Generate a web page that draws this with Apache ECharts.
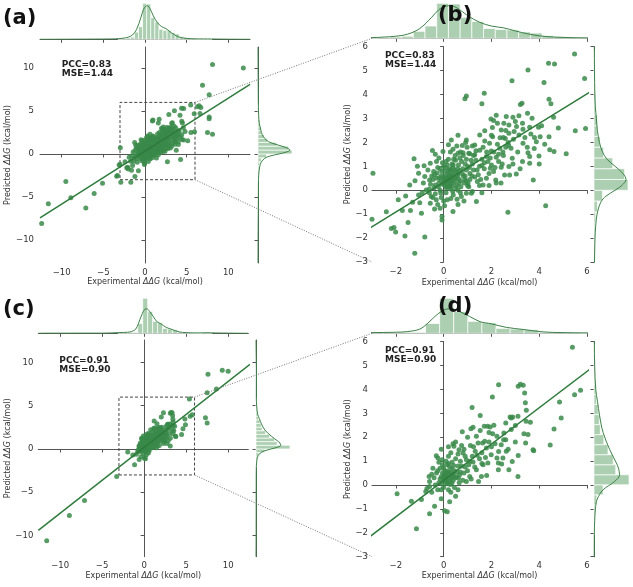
<!DOCTYPE html>
<html><head><meta charset="utf-8">
<script src="https://cdn.jsdelivr.net/npm/echarts@6/dist/echarts.min.js"></script>
<style>html,body{margin:0;padding:0;background:#fff}#c{width:633px;height:587px}</style>
</head><body><div id="c"></div>
<script>
// ---------------- data ----------------
const panelLabels = ['(a)', '(b)', '(c)', '(d)'];
const statTexts = ['PCC=0.83\nMSE=1.44', 'PCC=0.83\nMSE=1.44', 'PCC=0.91\nMSE=0.90', 'PCC=0.91\nMSE=0.90'];
const xAxisTitle = 'Experimental {i|ΔΔG} (kcal/mol)';
const yAxisTitle = 'Predicted {i|ΔΔG} (kcal/mol)';
const fullTicks = [-10, -5, 0, 5, 10];
const zoomXTicks = [-2, 0, 2, 4, 6];
const zoomYTicks = [-3, -2, -1, 0, 1, 2, 3, 4, 5, 6];
const zoomBox = [-3, 6];

// model 1 (panels a, b): [experimental, predicted]
const model1Points = [
[11.8,10.0],[8.1,10.4],[6.9,8.0],[7.7,6.9],[6.5,5.6],[6.7,5.4],[6.6,4.7],[7.7,4.3],[7.7,4.1],[7.5,2.5],[8.1,2.3],[6.3,5.5],
[-12.4,-8.1],[-11.6,-5.8],[-9.5,-3.2],[-8.9,-5.1],[-7.1,-6.3],[-6.1,-4.6],[-5.1,-3.4],[-3.4,-2.6],[-3.1,-1.3],[-2.9,-3.3],[-1.7,-3.3],[-3.3,-2.5],
[5.48,5.70],[5.90,4.67],[4.39,5.31],[4.64,5.28],[3.53,5.03],[2.86,4.58],[4.20,4.50],[1.70,4.05],[0.95,3.94],[0.89,3.82],[1.60,3.61],[4.41,3.80],[4.49,3.61],[3.28,3.64],[3.21,3.58],[3.51,3.22],[2.20,3.13],[2.62,3.08],[2.90,3.05],[3.15,3.11],[1.98,2.98],[2.09,2.91],[2.25,2.80],[2.52,2.80],[2.73,2.73],[3.00,2.87],[3.70,3.01],[3.97,2.63],[3.05,2.66],[2.04,2.62],[2.41,2.52],[3.32,2.55],[3.60,2.63],[5.94,2.58],[5.51,2.49],[1.72,2.49],[1.51,2.31],[2.73,2.38],[3.15,2.31],[4.04,2.24],[4.41,2.24],[2.05,2.24],[2.36,2.19],[2.58,2.16],[2.92,2.13],[0.95,2.10],[0.32,2.10],[1.72,2.06],[1.92,1.96],[2.25,1.92],[1.30,1.89],[2.72,1.87],[3.32,1.96],[3.88,2.03],[0.98,1.80],[0.78,1.87],[1.65,1.80],[2.82,1.75],[3.79,1.74],[4.23,1.92],[4.44,1.69],[4.62,1.62],[1.51,1.67],[1.99,1.64],[2.48,1.60],[3.53,1.57],[5.13,1.52],[-0.47,1.66],[-0.03,1.62],[0.39,1.71],[0.60,1.55],[0.81,1.57],[1.09,1.52],[1.30,1.48],[1.79,1.41],[2.20,1.38],[2.87,1.34],[3.60,1.41],[3.99,1.43],[3.60,1.13],[2.73,0.99],[2.41,0.96],[1.95,0.92],[1.60,1.03],[3.04,0.68],[2.55,0.64],[2.09,0.78],[2.76,0.64],[1.79,0.50],[2.18,0.43],[1.41,0.36],[1.02,0.29],[1.65,0.22],[3.75,0.43],[1.37,-0.47],[0.95,-0.13],[2.69,-0.92],[4.27,-0.65],[-2.96,0.71],[-3.0,-1.21],[-1.24,1.32],
[-2.19,-1.60],[-2.08,-1.56],[-2.01,-1.75],[-1.62,-1.91],[-0.79,-1.96],[-1.21,-2.63],[-1.49,-1.35],[-1.73,-0.85],[-1.39,-0.85],[-1.00,-0.52],[-0.56,-0.54],[-0.93,-0.96],[-0.38,-0.78],[-0.07,-1.24],[-0.07,-1.10],[0.39,-0.89],[0.04,-0.65],[-1.59,-0.24],[-1.42,0.22],[-1.05,-0.20],[-0.73,0.01],[-0.52,-0.26],[-0.35,0.22],[-0.59,0.43],[-0.79,0.57],[-1.05,0.71],[-0.82,1.02],[-0.56,1.13],[-0.66,0.85],[-0.42,0.78],[0.56,-0.38],[0.74,-0.26],[1.16,-0.13],[-0.31,-0.40],
[0.0,0.3],[0.1,0.5],[0.2,0.4],[0.3,0.6],[0.4,0.3],[0.5,0.5],[0.6,0.7],[0.15,0.15],[0.25,0.9],[0.35,1.1],[-0.1,0.6],[-0.2,0.3],[0.05,0.8],[0.45,0.85],[0.55,0.2],[0.7,0.4],[0.8,0.9],[0.9,0.6],[1.0,1.0],[1.1,0.7],[-0.3,0.5],[-0.15,0.0],[0.1,-0.1],[0.3,0.05],[0.6,0.0],[0.2,1.3],[0.5,1.25],[0.75,1.2],[-0.05,1.15],[-0.25,0.95],[0.0,0.55],[0.12,0.35],[0.22,0.62],[0.32,0.45],[0.42,0.65],[0.05,0.2],[0.28,0.25],[0.38,0.95],[0.62,0.48],[0.68,0.82],[0.85,0.3],[0.95,1.3],[1.2,1.1],[1.25,0.85],[1.35,1.25],[1.45,0.65],[1.5,1.0],[1.1,0.45],[-0.4,0.1],[-0.45,0.45],[-0.55,0.25],[-0.35,-0.15],[-0.2,1.35],[0.15,1.05],[0.48,1.45],[0.7,1.6],[0.9,1.1],[1.05,1.55],[1.15,1.25],[1.3,0.55],[1.6,1.3],[1.7,0.9],[1.85,1.2],[2.0,1.05],[2.3,1.2],[2.5,1.45],[2.1,1.6],[1.9,0.7],[0.02,0.42],[0.18,0.72],[0.26,0.52],[0.33,0.18],[0.46,0.38],[0.58,0.62],[0.08,0.95],[-0.08,0.78],[-0.12,0.42],[0.72,0.15],[0.82,0.6],[1.0,0.2],[1.2,-0.05],[0.4,-0.2],[0.15,-0.4],[-0.1,-0.3],[-0.25,-0.6],[0.6,-0.6],[0.85,-0.45],[0.28,1.6],[-0.35,1.5],[0.55,1.85],
[2.6,2.5],[3.4,2.2],[3.1,1.6],[2.35,1.75],[2.95,2.45],[3.65,2.35],[4.0,1.1],[3.3,1.2],[2.2,0.3],[2.9,1.1],[4.6,3.05],[4.8,2.6],
[-0.05,0.25],[0.08,0.62],[0.18,0.48],[0.27,0.38],[0.36,0.72],[0.44,0.52],[0.52,0.78],[0.64,0.3],[0.12,0.08],[0.22,0.82],[-0.18,0.52],[-0.28,0.72],[0.0,1.0],[0.4,1.05],[0.62,1.05],[0.78,0.7],[0.88,0.45],[0.95,0.85],[1.08,0.95],[1.18,0.6],[0.3,0.85],[0.16,0.28],[0.06,0.46],[0.24,0.15],[0.5,0.1],[0.7,-0.1],[-0.22,0.15],[-0.12,-0.12],[0.38,-0.05],[0.58,0.9],[0.68,1.35],[0.82,1.45],[0.42,1.3],[0.1,1.2],[-0.15,0.9],[-0.38,0.65],[-0.5,0.6],[-0.6,0.05],[-0.45,-0.3],[1.25,1.45],[1.4,0.85],[1.55,0.45],[1.7,1.15],[1.8,1.6],[1.95,1.35],[2.15,0.95],[2.3,1.5],[2.45,1.1],[2.6,1.8],[2.7,2.0],[1.35,1.65],[1.2,1.85],[0.92,2.0],[0.6,2.3],[0.2,1.9],[-0.3,1.2],[1.5,0.2],[1.9,0.2],[2.4,0.3],[1.6,-0.1],[0.95,0.4],[1.05,0.15],[0.3,-0.35],[0.0,-0.45],[-0.15,-0.75],[-0.6,-0.1],[-0.85,0.3],[-0.9,-0.1],[-1.2,0.4],[-1.3,-0.5],[-1.9,-0.4],[-2.4,-0.9],[-1.1,1.0],[3.5,1.8],[3.8,2.2],[3.2,0.9],[4.1,2.7],[3.3,2.8],[2.0,2.3],[2.5,2.2]
];

// model 2 (panels c, d): [experimental, predicted]
const model2Points = [
[-11.6,-10.6],[-8.9,-7.7],[-7.1,-5.95],[-3.27,-3.18],[7.6,8.65],[9.3,9.1],[10.0,9.0],[8.6,6.95],[7.5,6.5],[7.3,3.6],[7.5,3.0],
[5.39,5.77],[5.73,3.97],[5.48,3.78],[4.85,3.48],[4.92,2.81],[2.30,4.20],[3.12,4.13],[3.21,4.22],[3.33,4.18],[3.39,3.85],[2.04,3.69],[3.42,3.44],[1.19,3.25],[3.46,3.13],[1.53,2.91],[2.89,2.85],[2.83,2.81],[2.78,2.85],[3.11,2.88],[3.45,2.67],[3.63,2.63],[0.78,2.23],[1.23,2.42],[1.14,2.36],[1.70,2.46],[1.84,2.46],[1.94,2.43],[1.37,2.04],[1.53,2.28],[2.05,2.15],[2.23,2.04],[2.52,2.18],[2.83,2.32],[3.00,2.49],[3.36,2.15],[3.53,2.12],[4.46,1.68],[4.62,2.35],[3.74,1.48],[3.77,1.44],[3.43,1.76],[2.51,1.90],[2.41,1.69],[2.15,1.73],[1.72,1.83],[1.63,1.76],[1.44,1.76],[1.12,1.65],[0.39,1.73],[0.43,1.62],[0.64,1.48],[0.81,1.34],[1.32,1.41],[1.79,1.55],[1.99,1.27],[2.23,1.13],[2.48,1.13],[2.62,1.41],[2.87,0.99],[3.12,1.24],[0.95,1.06],[1.23,0.96],[1.65,0.85],[1.85,0.92],[2.29,0.92],[2.43,0.88],[2.73,0.64],[3.11,0.36],[2.29,0.64],[1.37,0.64],[1.58,0.36],[1.46,0.15],[1.09,0.36],[0.95,0.15],[0.67,0.43],[0.50,-0.47],[0.25,-0.70],[0.04,-1.08],[0.15,-1.12],[-0.10,-0.57],[-0.38,-0.89],[-0.59,-1.20],[-1.14,-1.83],[-1.95,-0.36],[-1.35,-0.68],[-0.93,-0.61],[-0.75,-0.27],[-0.70,-0.15],[-0.59,-0.06],[-0.61,0.36],[-0.59,0.15],[-0.31,1.23],[-0.24,1.13],[-0.06,1.06],
[0.0,0.2],[0.1,0.4],[0.2,0.3],[0.3,0.5],[0.05,0.6],[-0.1,0.35],[-0.2,0.1],[0.15,0.05],[0.25,0.75],[0.4,0.2],[0.45,0.6],[0.55,0.35],[-0.05,0.85],[0.1,1.0],[0.35,0.95],[-0.3,0.5],[-0.15,0.7],[0.6,0.8],[0.7,0.55],[0.8,0.2],[0.0,-0.1],[0.2,-0.2],[0.35,0.1],[-0.25,-0.2],[-0.4,0.3],[0.12,0.5],[0.22,0.55],[0.02,0.42],[0.32,0.3],[0.08,0.22],[-0.08,0.05],[0.5,1.1],[0.7,1.0],[0.9,0.75],[0.85,0.5],[1.0,0.6],[1.2,1.2],[1.05,0.85],[0.6,1.3],[0.3,1.35],[-0.1,1.5],[0.2,1.2],[-0.45,0.7],[-0.5,-0.3],[0.45,-0.1],[0.65,0.1],[1.15,0.25],[1.3,0.75],[1.5,1.1],[0.18,0.15],[0.28,0.18],[-0.02,0.3],[0.4,0.45],[0.15,0.85],[-0.2,0.95],[0.75,1.65],[1.0,2.0],[1.6,1.35],[1.9,1.8],[2.1,2.5],[2.6,2.6],[3.0,1.8],[2.7,1.5],[1.8,0.4],
[0.05,0.35],[0.14,0.58],[0.24,0.42],[0.34,0.68],[-0.05,0.5],[-0.15,0.25],[0.1,0.1],[0.28,0.02],[0.42,0.82],[0.55,0.55],[0.62,0.28],[-0.25,0.6],[0.0,0.72],[0.2,0.9],[0.48,0.3],[0.38,0.38],[-0.1,-0.2],[0.75,0.8],[0.9,1.2],[1.1,1.0],[0.85,1.5],[1.25,1.6],[1.4,1.25],[0.3,-0.3],[0.6,-0.2],[-0.35,0.0],[-0.5,0.45],[1.6,0.9],[2.0,1.6],[2.3,1.4],[2.6,1.9],[1.9,2.2],[0.5,1.8],[0.2,1.6],[1.75,1.15]
];

// regression lines (end points read at the axis edges)
const regLine1 = [[-12.6, -7.45], [12.6, 8.1]];
const regLine2 = [[-12.6, -9.4], [12.6, 9.78]];

// marginal histograms (relative heights, tallest bin = 100)
const hist1XStart = -3.23, hist1XWidth = 0.49;
const hist1XCounts = [1,2,4,6,20,35,100,98,60,48,28,25,24,18,15,8,5,3,2,1,1,1,1];
const hist1YStart = -3.15, hist1YWidth = 0.45;
const hist1YCounts = [1,1,3,3,5,10,25,100,90,55,28,18,10,10,5,5,2,2,2,1];
const hist2XStart = -3.12, hist2XWidth = 0.59;
const hist2XCounts = [2,2,3,3,28,100,62,34,30,14,12,10,3,3,2,1,0,2,2];
const hist2YStart = -2.09, hist2YWidth = 0.42;
const hist2YCounts = [2,2,4,8,26,100,62,55,40,28,18,15,12,7,6,3,1,0,1];

// marginal density curves (same relative scale)
const kde1X = [[-12.6,0],[-10,0.2],[-8,0.4],[-6,0.6],[-4,1],[-3,2],[-2.5,3.5],[-2,6],[-1.5,12],[-1,28],[-0.5,60],[-0.2,82],[0.1,92],[0.3,93],[0.6,85],[1,65],[1.5,46],[2,35],[2.5,30],[3,21],[3.5,13],[4,7],[4.5,4],[5,2.5],[6,1.2],[7,1],[8,0.8],[10,0.3],[12.6,0]];
const kde1Y = [[0,-12.7],[0.3,-10],[0.6,-8],[1,-6],[1.2,-4],[1.5,-3],[3,-2],[5,-1.5],[9,-1],[20,-0.5],[35,-0.25],[62,0],[82,0.2],[94,0.45],[85,0.7],[62,1.0],[38,1.3],[25,1.6],[16,2.0],[10,2.5],[7,3],[4,3.5],[2.5,4],[1.5,5],[1,6],[0.6,8],[0.3,10],[0,12.45]];
const kde2X = [[-12.6,0],[-11.5,0.4],[-9,0.4],[-7,0.5],[-5,0.4],[-3,2],[-2,3],[-1.5,5],[-1,12],[-0.66,29],[-0.3,52],[0.1,69],[0.32,70],[0.67,62],[1.09,48],[1.53,33],[2,27],[2.62,17],[3.32,11],[4.16,4],[5,2],[6,1.2],[7,1.3],[7.6,1.6],[8.5,1],[10,0.5],[12.4,0]];
const kde2Y = [[0,-12.45],[0.3,-10.6],[0.5,-8],[0.5,-6],[0.6,-4],[1,-2],[2,-1.5],[4,-1],[9,-0.6],[26,-0.2],[59,0.15],[73,0.43],[70,0.7],[64,0.92],[45,1.48],[26,2.2],[16,2.9],[10,3.5],[5,4],[2,5],[1,6],[1,7],[1.2,8.7],[1,9.5],[0,12.6]];

// ---------------- build ----------------
function buildBins(start, w, counts) { return counts.map((c, i) => [start + i * w, start + (i + 1) * w, c]); }
const models = [
  { points: model1Points, reg: regLine1, histX: buildBins(hist1XStart, hist1XWidth, hist1XCounts), kdeX: kde1X, histY: buildBins(hist1YStart, hist1YWidth, hist1YCounts), kdeY: kde1Y },
  { points: model2Points, reg: regLine2, histX: buildBins(hist2XStart, hist2XWidth, hist2XCounts), kdeX: kde2X, histY: buildBins(hist2YStart, hist2YWidth, hist2YCounts), kdeY: kde2Y }
];

const layout = [
  { m: 0, xr: [-12.6, 12.6], yr: [-12.7, 12.45], xt: fullTicks, yt: fullTicks, box: true,
    main: { left: 40, top: 47, width: 210, height: 216 }, topM: { left: 40, top: 3.3, width: 210, height: 36 }, rightM: { left: 258, top: 47, width: 34, height: 216 },
    xGap: 15, yGap: 24, yLabMargin: 6, lab: [3, 18.5], stat: [61.7, 60] },
  { m: 0, xr: [-3, 6], yr: [-3, 6], xt: zoomXTicks, yt: zoomYTicks, box: false,
    main: { left: 372, top: 46.7, width: 215, height: 215.3 }, topM: { left: 372, top: 3.3, width: 215, height: 35 }, rightM: { left: 594, top: 46.7, width: 34, height: 215.3 },
    xGap: 17, yGap: 20, yLabMargin: 4, lab: [438, 16], stat: [385, 51] },
  { m: 1, xr: [-12.6, 12.4], yr: [-12.45, 12.6], xt: fullTicks, yt: fullTicks, box: true,
    main: { left: 38.3, top: 340, width: 210, height: 216.7 }, topM: { left: 38.3, top: 298.3, width: 210, height: 35 }, rightM: { left: 256, top: 340, width: 34, height: 216.7 },
    xGap: 15.5, yGap: 23, yLabMargin: 5, lab: [3, 310], stat: [59.3, 356] },
  { m: 1, xr: [-3, 6], yr: [-3, 6], xt: zoomXTicks, yt: zoomYTicks, box: false,
    main: { left: 372, top: 341.7, width: 215, height: 215 }, topM: { left: 372, top: 298.3, width: 215, height: 35 }, rightM: { left: 594, top: 341.7, width: 35, height: 215 },
    xGap: 15.5, yGap: 20, yLabMargin: 4, lab: [438, 306.7], stat: [385, 346] }
];

const FONT = 'DejaVu Sans';
const axisColor = '#555';
const textColor = '#333';
const pointColor = '#3a8a4a';
const lineColor = '#2e7b3c';
const histFill = '#abcfb0';
const kdeColor = '#3d8148';
const minus = v => String(v).replace('-', '\u2212');

const grids = [], xAxes = [], yAxes = [], series = [];
function baseAxis(extra) {
  return Object.assign({ type: 'value', splitLine: { show: false },
    axisLine: { show: true, lineStyle: { color: axisColor, width: 1 } } }, extra);
}
function nameStyle() {
  return { fontSize: 8, color: textColor, fontFamily: FONT,
    rich: { i: { fontSize: 8, color: textColor, fontFamily: FONT, fontStyle: 'italic' } } };
}

function histTopRender(params, api) {
  const lo = api.value(0), hi = api.value(1), h = api.value(2);
  const a = api.coord([lo, 0]), b = api.coord([hi, h]);
  const cs = params.coordSys;
  const shape = echarts.graphic.clipRectByRect({ x: a[0], y: b[1], width: b[0] - a[0], height: a[1] - b[1] },
    { x: cs.x, y: cs.y, width: cs.width, height: cs.height });
  return shape && { type: 'rect', shape: shape, style: { fill: histFill, stroke: '#fff', lineWidth: 0.7 } };
}
function histRightRender(params, api) {
  const lo = api.value(0), hi = api.value(1), h = api.value(2);
  const a = api.coord([0, lo]), b = api.coord([h, hi]);
  const cs = params.coordSys;
  const shape = echarts.graphic.clipRectByRect({ x: a[0], y: b[1], width: b[0] - a[0], height: a[1] - b[1] },
    { x: cs.x, y: cs.y, width: cs.width, height: cs.height });
  return shape && { type: 'rect', shape: shape, style: { fill: histFill, stroke: '#fff', lineWidth: 0.7 } };
}

layout.forEach((p, i) => {
  const md = models[p.m];
  const gMain = 3 * i, gTop = 3 * i + 1, gRight = 3 * i + 2;
  [p.main, p.topM, p.rightM].forEach(g => grids.push(Object.assign({ containLabel: false, outerBoundsMode: 'none' }, g)));
  const tickStyle = { show: true, length: 3.5, lineStyle: { color: axisColor, width: 1 } };
  xAxes.push(baseAxis({ gridIndex: gMain, min: p.xr[0], max: p.xr[1],
    axisTick: Object.assign({ customValues: p.xt }, tickStyle),
    axisLabel: { customValues: p.xt, fontSize: 8.5, color: textColor, fontFamily: FONT, margin: 5, formatter: minus },
    name: xAxisTitle, nameLocation: 'middle', nameGap: p.xGap, nameTextStyle: nameStyle() }));
  yAxes.push(baseAxis({ gridIndex: gMain, min: p.yr[0], max: p.yr[1],
    axisTick: Object.assign({ customValues: p.yt }, tickStyle),
    axisLabel: { customValues: p.yt, fontSize: 8.5, color: textColor, fontFamily: FONT, margin: p.yLabMargin, formatter: minus },
    name: yAxisTitle, nameLocation: 'middle', nameGap: p.yGap, nameTextStyle: nameStyle() }));
  xAxes.push(baseAxis({ gridIndex: gTop, min: p.xr[0], max: p.xr[1],
    axisTick: Object.assign({ customValues: p.xt }, tickStyle), axisLabel: { show: false } }));
  yAxes.push({ type: 'value', gridIndex: gTop, min: 0, max: 100, show: false });
  xAxes.push({ type: 'value', gridIndex: gRight, min: 0, max: 100, show: false });
  yAxes.push(baseAxis({ gridIndex: gRight, min: p.yr[0], max: p.yr[1],
    axisTick: Object.assign({ customValues: p.yt }, tickStyle), axisLabel: { show: false } }));

  const sc = { type: 'scatter', xAxisIndex: gMain, yAxisIndex: gMain, data: md.points, symbolSize: 5, clip: true,
    itemStyle: { color: pointColor, opacity: 0.85 }, z: 2, silent: true };
  if (p.box) {
    sc.markArea = { silent: true, itemStyle: { color: 'rgba(0,0,0,0)', borderColor: '#444', borderWidth: 1, borderType: [3, 2] },
      data: [[{ coord: [zoomBox[0], zoomBox[0]] }, { coord: [zoomBox[1], zoomBox[1]] }]] };
  }
  series.push(sc);
  series.push({ type: 'line', xAxisIndex: gMain, yAxisIndex: gMain, data: md.reg, symbol: 'none', clip: true,
    lineStyle: { color: lineColor, width: 1.5 }, z: 3, silent: true });
  series.push({ type: 'custom', xAxisIndex: gTop, yAxisIndex: gTop, data: md.histX, renderItem: histTopRender, silent: true, z: 1 });
  series.push({ type: 'line', xAxisIndex: gTop, yAxisIndex: gTop, data: md.kdeX, symbol: 'none', smooth: 0.35, clip: true,
    lineStyle: { color: kdeColor, width: 1 }, z: 2, silent: true });
  series.push({ type: 'custom', xAxisIndex: gRight, yAxisIndex: gRight, data: md.histY, renderItem: histRightRender, silent: true, z: 1 });
  series.push({ type: 'line', xAxisIndex: gRight, yAxisIndex: gRight, data: md.kdeY, symbol: 'none', smooth: 0.35, clip: true,
    lineStyle: { color: kdeColor, width: 1 }, z: 2, silent: true });
});

const chart = echarts.init(document.getElementById('c'), null, { renderer: 'canvas' });
chart.setOption({
  animation: false,
  backgroundColor: '#fff',
  textStyle: { fontFamily: FONT },
  grid: grids, xAxis: xAxes, yAxis: yAxes, series: series
});

const graphics = [];
[[0, 3], [6, 9]].forEach(([gSrc, gDst]) => {
  const p1 = chart.convertToPixel({ gridIndex: gSrc }, [zoomBox[1], zoomBox[1]]);
  const q1 = chart.convertToPixel({ gridIndex: gDst + 1 }, [zoomBox[0], 0]);
  const p2 = chart.convertToPixel({ gridIndex: gSrc }, [zoomBox[1], zoomBox[0]]);
  const q2 = chart.convertToPixel({ gridIndex: gDst }, [zoomBox[0], zoomBox[0]]);
  [[p1, q1], [p2, q2]].forEach(([a, b]) => graphics.push({ type: 'line', silent: true, z: 50,
    shape: { x1: a[0], y1: a[1], x2: b[0], y2: b[1] },
    style: { stroke: '#777', lineWidth: 1, lineDash: [1, 1.5] } }));
});
layout.forEach((p, i) => {
  graphics.push({ type: 'text', silent: true, z: 60, x: p.lab[0], y: p.lab[1],
    style: { text: panelLabels[i], font: 'bold 21px "DejaVu Sans"', fill: '#111', align: 'left', verticalAlign: 'middle' } });
  graphics.push({ type: 'text', silent: true, z: 60, x: p.stat[0], y: p.stat[1],
    style: { text: statTexts[i], font: 'bold 9px "DejaVu Sans"', fill: '#222', lineHeight: 9, align: 'left', verticalAlign: 'top' } });
});
chart.setOption({ graphic: graphics });
</script></body></html>
